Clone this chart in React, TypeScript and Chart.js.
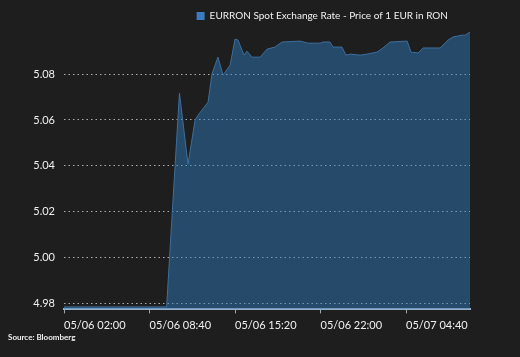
import React, { useEffect, useRef } from "react";
import { Chart, registerables } from "chart.js";

Chart.register(...registerables);

// minutes after 05/06 02:00
const minutes = [
  0, 240, 480, 540, 580, 613, 627, 674, 692, 720, 744, 777, 800, 814, 842, 856,
  879, 917, 950, 987, 1020, 1104, 1141, 1198, 1212, 1244, 1258, 1300, 1319, 1338,
  1385, 1417, 1464, 1492, 1525, 1605, 1623, 1656, 1679, 1759, 1796, 1820, 1843,
  1862, 1876, 1899,
];
const rates = [
  4.9785, 4.9785, 4.9785, 5.0717, 5.0407, 5.0599, 5.0621, 5.0678, 5.08, 5.0874,
  5.0796, 5.0839, 5.0953, 5.0948, 5.0883, 5.09, 5.0874, 5.0874, 5.0909, 5.0918,
  5.094, 5.0944, 5.0935, 5.0935, 5.094, 5.094, 5.0918, 5.0918, 5.0883, 5.0887,
  5.0883, 5.0887, 5.0896, 5.0914, 5.094, 5.0944, 5.0896, 5.0892, 5.0914, 5.0914,
  5.0948, 5.0962, 5.0966, 5.097, 5.097, 5.0983,
];
const xTickMinutes = [0, 400, 800, 1200, 1600];
const yTickValues = [4.98, 5.0, 5.02, 5.04, 5.06, 5.08];
const seriesLabel = "EURRON Spot Exchange Rate - Price of 1 EUR in RON";
const sourceText = "Source: Bloomberg";

const FONT = "Lato, 'Open Sans', sans-serif";

function fmtTime(m: number): string {
  const base = 2 * 60 + m;
  const day = 6 + Math.floor(base / 1440);
  const mm = base % 1440;
  const h = Math.floor(mm / 60);
  const mi = mm % 60;
  const p = (n: number) => String(n).padStart(2, "0");
  return `05/${p(day)} ${p(h)}:${p(mi)}`;
}

export default function App() {
  const ref = useRef<HTMLCanvasElement | null>(null);
  useEffect(() => {
    document.body.style.margin = "0";
    document.body.style.background = "#1e1e1e";
    if (!ref.current) return;
    const legendShift = {
      id: "legendShift",
      afterLayout(chart: any) {
        if (chart.legend) {
          chart.legend.left -= 11;
          chart.legend.right -= 11;
        }
      },
    };
    const chart = new Chart(ref.current, {
      type: "line",
      data: {
        datasets: [
          {
            label: seriesLabel,
            data: minutes.map((m, i) => ({ x: m, y: rates[i] })),
            borderColor: "#3d6f9e",
            borderWidth: 1,
            backgroundColor: "rgba(48,128,199,0.45)",
            fill: "start",
            pointRadius: 0,
            tension: 0,
          },
        ],
      },
      options: {
        animation: false,
        responsive: false,
        layout: { padding: { left: 8, right: 50, top: 0, bottom: 12 } },
        plugins: {
          tooltip: { enabled: false },
          legend: {
            position: "top",
            align: "end",
            labels: {
              color: "#f0f0f0",
              font: { family: FONT, size: 10, lineHeight: 1 },
              boxWidth: 8,
              boxHeight: 8,
              padding: 11,
              generateLabels: () => [
                {
                  text: seriesLabel,
                  fillStyle: "#3b7cc0",
                  strokeStyle: "#3b7cc0",
                  lineWidth: 0,
                  hidden: false,
                  datasetIndex: 0,
                  fontColor: "#f0f0f0",
                } as any,
              ],
            },
          },
          title: {
            display: true,
            text: sourceText,
            position: "bottom",
            align: "start",
            color: "#f0f0f0",
            font: { family: FONT, size: 8, weight: "bold" },
            padding: { top: 2, bottom: 3 },
          },
        },
        scales: {
          x: {
            type: "linear",
            min: 0,
            max: 1899,
            afterBuildTicks: (s: any) => {
              s.ticks = xTickMinutes.map((v) => ({ value: v }));
            },
            afterFit: (s: any) => {
              s.height = 21;
            },
            ticks: {
              align: "start",
              color: "#f0f0f0",
              font: { family: FONT, size: 11 },
              padding: 5,
              maxRotation: 0,
              autoSkip: false,
              callback: (v: any) => fmtTime(Number(v)),
            },
            grid: {
              display: true,
              drawOnChartArea: false,
              drawTicks: true,
              tickLength: 4,
              tickColor: "#9aa9b8",
              color: "#9aa9b8",
            },
            border: { display: true, color: "#9fb0c2", width: 2 },
          },
          y: {
            min: 4.9774,
            max: 5.0988,
            afterBuildTicks: (s: any) => {
              s.ticks = yTickValues.map((v) => ({ value: v }));
            },
            afterFit: (s: any) => {
              s.width = 56;
            },
            ticks: {
              color: "#f0f0f0",
              font: { family: FONT, size: 11 },
              padding: 9,
              callback: (v: any) => Number(v).toFixed(2),
            },
            grid: {
              display: true,
              drawTicks: false,
              color: "rgba(190,190,190,0.9)",
              lineWidth: 1,
            },
            border: { display: false, dash: [1.5, 3] },
          },
        },
      },
      plugins: [legendShift],
    } as any);
    return () => chart.destroy();
  }, []);
  return (
    <div style={{ width: 520, height: 357, background: "#1e1e1e" }}>
      <canvas ref={ref} width={520} height={357} style={{ display: "block" }} />
    </div>
  );
}
